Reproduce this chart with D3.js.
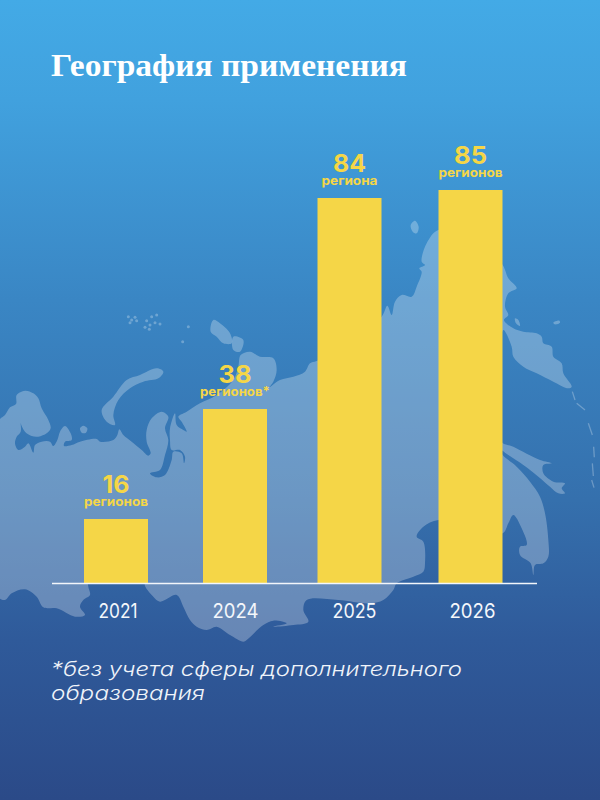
<!DOCTYPE html>
<html lang="ru">
<head>
<meta charset="utf-8">
<script src="https://cdn.jsdelivr.net/npm/d3@7/dist/d3.min.js"></script>
<style>
html,body{margin:0;padding:0;background:#2b4a88}
svg{display:block}
</style>
</head>
<body>
<script>
// ---- chart data ----
const years = ["2021", "2024", "2025", "2026"];
const regionCounts = [16, 38, 84, 85];
const regionWords = ["регионов", "регионов*", "региона", "регионов"];
const titleText = "География применения";
const footnoteLines = ["*без учета сферы дополнительного", "образования"];

// ---- decorative map tracing (crop origin + points in 3x crop pixels) ----
const crop = (ox, oy, pts) => pts.map(p => [p[0] / 3 + ox, p[1] / 3 + oy]);
const coast = [
  ...crop(0, 300, [[-6,366],[15,345],[30,322],[48,312],[50,285],[75,272],[100,280],[115,295],[125,325],[145,360],[152,385],[140,400],[115,410],[95,408],[75,395],[62,370],[60,355],[62,395],[50,410],[45,430],[55,450],[75,440],[85,430],[100,458],[105,435],[125,425],[150,425],[160,438],[172,420],[180,395],[195,378],[212,400],[215,420],[195,425],[192,438],[215,435],[240,425],[290,417],[300,425],[340,420],[352,405],[358,388],[370,405],[395,425],[425,450],[445,467],[452,460],[440,425],[440,390],[455,355],[485,335],[505,350],[495,385],[505,420],[495,465],[480,510],[450,520],[470,532],[495,525],[515,480],[520,455],[545,460],[552,490],[555,470],[540,450],[515,450],[510,420],[510,385],[525,340],[530,375],[550,390],[560,395],[545,365],[535,350],[560,335],[600,310],[650,285],[700,240],[715,200],[722,165],[750,155],[780,170],[820,175],[830,210],[820,245],[808,262]]),
  ...crop(260, 200, [[60,540],[100,530],[135,515],[150,490],[170,483],[260,440],[365,350],[382,317],[395,345],[405,305],[425,285],[455,290],[470,260],[485,215],[478,205],[495,195],[485,185],[500,130],[535,90],[640,100],[728,195],[745,235],[770,265],[745,280],[735,320],[745,345],[732,360],[760,385],[790,395],[830,400],[845,410],[850,430],[875,440],[880,470],[905,490],[910,520],[935,560],[925,565],[880,545],[830,520],[790,500],[760,470],[755,440],[730,390]]),
  ...crop(260, 400, [[722,122],[760,140],[840,180],[875,190],[850,195],[850,220],[880,245],[915,250],[905,265],[915,280],[895,280],[870,260],[835,230],[790,195],[745,165],[722,150],[728,165],[770,200],[810,245],[840,290],[855,340],[865,420],[865,470],[850,490],[825,495],[820,525],[812,490],[780,465],[780,440],[800,435],[785,385],[760,345],[745,370],[728,400],[640,380],[535,360],[490,380],[470,410],[490,425],[495,490],[490,515],[460,530],[410,550],[400,570],[370,600],[330,610],[235,600],[140,600],[130,630],[145,665],[100,675],[40,680]]),
  ...crop(0, 500, [[860,370],[820,362],[790,375],[740,420],[730,425],[690,405],[650,380],[620,390],[590,380],[570,360],[550,320],[530,285],[480,305],[460,290],[435,258],[432,240],[265,240],[265,260],[270,285],[250,300],[240,320],[255,345],[225,350],[170,325],[130,322],[110,290],[75,268],[35,280],[15,300],[-6,290]])
];
const islands = [
  crop(0, 300, [[305,330],[340,290],[380,240],[420,225],[470,205],[490,215],[475,235],[430,245],[390,265],[355,300],[340,345],[345,375],[320,365]]),
  crop(0, 300, [[240,385],[250,377],[262,385],[258,398],[245,398]]),
  crop(0, 300, [[640,60],[660,70],[690,100],[695,130],[670,130],[650,110],[632,95]]),
  crop(0, 300, [[700,110],[730,120],[720,155],[700,150]]),
  crop(260, 200, [[452,75],[465,62],[476,80],[470,100],[458,95]]),
  crop(260, 200, [[765,355],[775,360],[780,378],[768,370]]),
  crop(260, 200, [[880,368],[898,362],[900,368],[885,373]])
];
const specks = crop(0, 300, [[385,50],[395,60],[405,52],[390,68],[410,62],[440,62],[455,50],[465,68],[450,75],[480,72],[435,82],[448,88],[470,45],[565,80],[548,125]]);
const kurilDashes = [
  crop(260, 200, [[937,575],[945,600]]),
  crop(260, 400, [[950,10],[975,30]]),
  crop(260, 400, [[985,70],[997,105]]),
  crop(260, 400, [[1001,140],[1003,172]]),
  crop(260, 400, [[997,190],[1000,228]]),
  crop(260, 400, [[995,240],[1002,263]])
];

// ---- layout ----
const W = 600, H = 800;
const svg = d3.select("body").append("svg").attr("width", W).attr("height", H);

const grad = svg.append("defs").append("linearGradient")
  .attr("id", "bg").attr("x1", 0).attr("y1", 0).attr("x2", 0).attr("y2", 1);
[[0, "#43aae6"], [0.125, "#41a1de"], [0.375, "#3a86c4"], [0.625, "#3570ad"], [0.8, "#2f5a9a"], [1, "#2b4a88"]]
  .forEach(s => grad.append("stop").attr("offset", s[0]).attr("stop-color", s[1]));
svg.append("rect").attr("width", W).attr("height", H).attr("fill", "url(#bg)");

// map
const mapG = svg.append("g").attr("fill", "#fff").attr("fill-opacity", 0.27);
const outline = d3.line().curve(d3.curveCatmullRomClosed.alpha(0.5));
mapG.append("path").attr("d", outline(coast));
mapG.selectAll("path.isl").data(islands).join("path").attr("class", "isl").attr("d", outline);
mapG.selectAll("circle").data(specks).join("circle")
  .attr("cx", d => d[0]).attr("cy", d => d[1]).attr("r", 1.5);
svg.append("g").attr("stroke", "#fff").attr("stroke-opacity", 0.27).attr("stroke-width", 1.3).attr("fill", "none")
  .selectAll("path").data(kurilDashes).join("path").attr("d", d3.line());

// scales
const baseY = 583;
const x = d3.scaleOrdinal(years, [116, 235, 349.5, 470.5]);
const xTick = d3.scaleOrdinal(years, [117.5, 235, 354, 472]);
// The reference's bars are not strictly proportional, so the scale is calibrated per value.
const y = d3.scaleLinear().domain([0, 16, 38, 84, 85]).range([baseY, 519, 409, 198, 190]);
const barW = 64;
const yellow = "#f5d647";
const sans = "Inter, 'Open Sans', sans-serif";
const rows = years.map((yr, i) => ({yr, n: regionCounts[i], word: regionWords[i]}));

// bars
svg.append("g").selectAll("rect").data(rows).join("rect")
  .attr("x", d => x(d.yr) - barW / 2).attr("width", barW)
  .attr("y", d => y(d.n)).attr("height", d => baseY - y(d.n))
  .attr("fill", yellow);

// baseline
svg.append("line").attr("x1", 52).attr("x2", 537).attr("y1", baseY + 0.5).attr("y2", baseY + 0.5)
  .attr("stroke", "#f2f6fb").attr("stroke-width", 1.5);

// value labels
const labels = svg.append("g").attr("text-anchor", "middle").attr("fill", yellow).attr("font-family", sans);
labels.selectAll("text.num").data(rows).join("text").attr("class", "num")
  .attr("x", d => x(d.yr)).attr("y", d => y(d.n) - 26.5)
  .attr("font-size", 24).attr("font-weight", 700)
  .attr("textLength", d => d.n === 16 ? 27 : 33).attr("lengthAdjust", "spacingAndGlyphs")
  .text(d => d.n);
labels.selectAll("text.word").data(rows).join("text").attr("class", "word")
  .attr("x", d => x(d.yr)).attr("y", d => y(d.n) - 13)
  .attr("font-size", 12.5).attr("font-weight", 700)
  .attr("textLength", d => d.word === "региона" ? 56 : d.word.endsWith("*") ? 70 : 64).attr("lengthAdjust", "spacingAndGlyphs")
  .text(d => d.word);

// year axis
const axis = d3.axisBottom(xTick).tickSize(0).tickPadding(0);
const axG = svg.append("g").attr("transform", `translate(0,${baseY + 21})`).call(axis);
axG.select(".domain").remove();
axG.selectAll("text").attr("font-family", sans).attr("font-size", 20).attr("fill", "#f4f7fb")
  .attr("textLength", d => d === "2021" ? 39 : d === "2025" ? 44 : 46).attr("lengthAdjust", "spacingAndGlyphs");

// title
svg.append("text").attr("x", 51).attr("y", 76)
  .attr("font-family", "'Liberation Serif', serif").attr("font-weight", 700).attr("font-size", 31)
  .attr("fill", "#fff").attr("textLength", 356).attr("lengthAdjust", "spacingAndGlyphs")
  .text(titleText);

// footnote
svg.append("g").selectAll("text").data(footnoteLines).join("text")
  .attr("x", 51).attr("y", (d, i) => 676 + i * 24)
  .attr("font-family", sans).attr("font-style", "italic").attr("font-size", 20).attr("font-weight", 300)
  .attr("fill", "#f0f4fa")
  .attr("textLength", (d, i) => i === 0 ? 411 : 154).attr("lengthAdjust", "spacingAndGlyphs")
  .text(d => d);
</script>
</body>
</html>
